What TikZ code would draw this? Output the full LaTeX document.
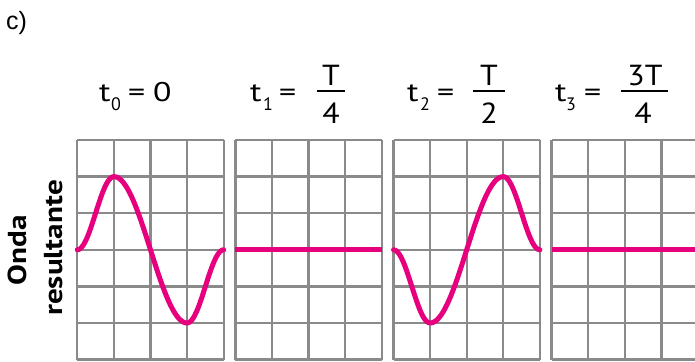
\documentclass[tikz,border=0pt]{standalone}
\usepackage{fontspec}
\setmainfont{PT Sans}
\newfontfamily\mainf{PT Sans}[FakeStretch=1.25]
\newfontfamily\fracf{PT Sans}[FakeStretch=1.1]
\newfontfamily\sidef{PT Sans}[FakeStretch=1.2]
\newfontfamily\arialf{Liberation Sans}
\definecolor{wavec}{RGB}{230,0,126}
\definecolor{gridc}{RGB}{138,138,138}
\begin{document}
\begin{tikzpicture}[x=1pt,y=-1pt,
  gridline/.style={draw=gridc,line width=2.3pt},
  wave/.style={draw=wavec,line width=5pt,line cap=round,line join=round},
  flat/.style={draw=wavec,line width=5pt},
  lbl/.style={font=\mainf\fontsize{27}{27}\selectfont,inner sep=0pt,anchor=base west},
  sub/.style={font=\fontsize{18}{18}\selectfont,inner sep=0pt,anchor=base west},
  frc/.style={font=\fracf\fontsize{29}{29}\selectfont,inner sep=0pt,anchor=base},
  bar/.style={draw=black,line width=2pt},
  side/.style={font=\sidef\bfseries\fontsize{26}{26}\selectfont,inner sep=0pt,rotate=90}]
\useasboundingbox (0,0) rectangle (695,361);
\clip (0,0) rectangle (695,361);
% grids
\foreach \gx in {77.3,235.4,393.5,551.6}{
  \begin{scope}[shift={(\gx,140)}]
    \foreach \i in {0,...,4} \draw[gridline] (36.6*\i,0) -- (36.6*\i,219.6);
    \foreach \j in {0,...,6} \draw[gridline] (0,36.6*\j) -- (146.4,36.6*\j);
  \end{scope}
}
% waves
\begin{scope}[shift={(77.3,249.8)}]
  \draw[wave] plot[domain=0:1,samples=25] ({36.6*\x},{-73.2*sin(90*\x)*sin(90*\x)})
    -- plot[domain=1:3,samples=40] ({36.6*\x},{-73.2*cos(90*\x-90)})
    -- plot[domain=3:4,samples=25] ({36.6*\x},{73.2*cos(90*\x-270)*cos(90*\x-270)});
\end{scope}
\begin{scope}[shift={(393.5,249.8)}]
  \draw[wave] plot[domain=0:1,samples=25] ({36.6*\x},{73.2*sin(90*\x)*sin(90*\x)})
    -- plot[domain=1:3,samples=40] ({36.6*\x},{73.2*cos(90*\x-90)})
    -- plot[domain=3:4,samples=25] ({36.6*\x},{-73.2*cos(90*\x-270)*cos(90*\x-270)});
\end{scope}
\draw[flat] (235.4,249.8) -- (381.8,249.8);
\draw[flat] (551.6,249.8) -- (698,249.8);
% labels
\node[font=\arialf\fontsize{25}{25}\selectfont,inner sep=0pt,anchor=base west] (c) at (6,29.5) {c)};
% t0 = 0
\node[lbl] (t0) at (99,101) {t};
\node[sub] (s0) at (111,110) {0};
\node[lbl] (e0) at (128,101) {=};
\node[lbl] (v0) at (153,101) {0};
% t1 = T/4
\node[lbl] (t1) at (250,101) {t};
\node[sub] (s1) at (263,110) {1};
\node[lbl] (e1) at (279,101) {=};
\node[frc] (n1) at (331,85) {T};
\node[frc] (d1) at (331,123) {4};
\draw[bar] (317,91) -- (345,91);
% t2 = T/2
\node[lbl] (t2) at (407,101) {t};
\node[sub] (s2) at (420,110) {2};
\node[lbl] (e2) at (437,101) {=};
\node[frc] (n2) at (489,85) {T};
\node[frc] (d2) at (489,123) {2};
\draw[bar] (473,91) -- (505,91);
% t3 = 3T/4
\node[lbl] (t3) at (555,101) {t};
\node[sub] (s3) at (566,110) {3};
\node[lbl] (e3) at (584,101) {=};
\node[frc] (n3) at (645,85) {3T};
\node[frc] (d3) at (643,123) {4};
\draw[bar] (621,91) -- (668,91);
% side label
\node[side] (o) at (17.5,250) {Onda};
\node[side] (r) at (54,248) {resultante};
\end{tikzpicture}
\end{document}
